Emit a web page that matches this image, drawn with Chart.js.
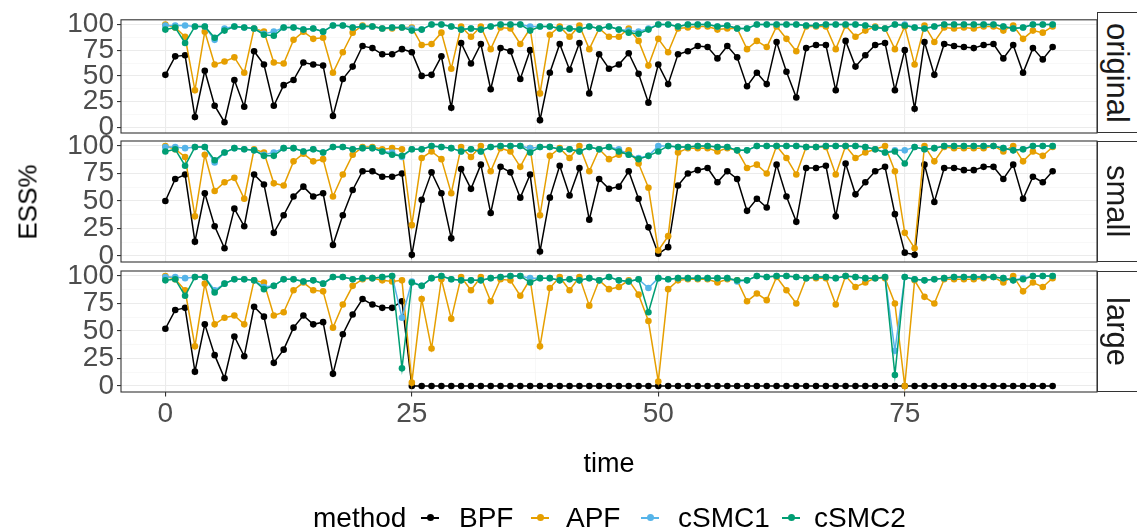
<!DOCTYPE html>
<html>
<head>
<meta charset="utf-8">
<script src="https://cdn.jsdelivr.net/npm/chart.js@4.4.1/dist/chart.umd.min.js"></script>
<style>
body{margin:0;background:#fff;font-family:"Liberation Sans",Arial,sans-serif;}
#wrap{position:relative;width:1137px;height:528px;overflow:hidden;background:#fff;}
#wrap canvas{position:absolute;left:0;top:0;}
.strip{position:absolute;left:1097px;width:46px;border:1.1px solid #333;box-sizing:border-box;background:#fff;display:flex;align-items:center;justify-content:flex-start;}
.strip span{writing-mode:vertical-rl;font-size:31px;line-height:32px;color:#1A1A1A;margin-left:3px;}
#ytitle{position:absolute;left:28px;top:202px;transform:translate(-50%,-50%) rotate(-90deg);font-size:26px;white-space:nowrap;}
.lg{position:absolute;top:502px;font-size:28px;line-height:32px;white-space:nowrap;}
.key{position:absolute;top:517px;width:18px;height:1.5px;}
.key i{position:absolute;left:5.5px;top:-2.8px;width:7px;height:7px;border-radius:50%;}
</style>
</head>
<body>
<div id="wrap">
  <canvas id="c1" width="1137" height="528"></canvas>
  <canvas id="c2" width="1137" height="528"></canvas>
  <canvas id="c3" width="1137" height="528"></canvas>
  <div id="ytitle">ESS%</div>
  <div id="strips"></div>
  <div id="legend"></div>
</div>
<script>
// time steps
var time = [0,1,2,3,4,5,6,7,8,9,10,11,12,13,14,15,16,17,18,19,20,21,22,23,24,25,26,27,28,29,
  30,31,32,33,34,35,36,37,38,39,40,41,42,43,44,45,46,47,48,49,50,51,52,53,54,55,56,57,58,59,
  60,61,62,63,64,65,66,67,68,69,70,71,72,73,74,75,76,77,78,79,80,81,82,83,84,85,86,87,88,89,90]

var methods = ['BPF','APF','cSMC1','cSMC2']
var facets = ['original','small','large']
var yTicks = [0,25,50,75,100]
var xTicks = [0,25,50,75]

// ESS% values, facet "original"
var origBPF = [51,69,70,10,55,21,5,46,20,74,61,21,41,46,63,61,60,11,47,59,79,77,71,71,76,73,50,51,69,19,
  82,62,81,37,77,74,47,75,7,53,81,56,82,33,71,57,61,72,52,24,61,42,71,74,79,78,67,79,68,40,
  53,42,83,54,29,77,80,80,36,84,59,70,80,82,36,75,18,83,51,81,79,78,77,80,81,67,80,53,77,66,78]
var origAPF = [100,97,88,36,93,61,64,68,53,96,93,63,62,85,93,86,87,53,73,92,99,98,96,96,97,97,80,81,92,57,
  98,88,98,76,97,96,81,96,33,90,98,88,99,76,96,88,88,96,84,60,86,73,96,97,98,98,95,96,96,76,
  84,78,98,86,74,98,98,98,76,99,88,94,98,96,76,98,61,99,83,97,96,97,96,98,98,94,99,86,94,92,98]
var origCSMC1 = [99,99,99,98,98,85,96,98,97,96,91,93,97,97,95,96,93,99,99,97,98,98,96,97,97,96,95,100,100,98,
  95,96,95,98,100,100,100,98,98,98,96,96,95,98,96,98,95,94,93,96,100,100,98,100,100,100,98,99,96,96,
  100,100,100,100,100,99,99,100,100,100,100,99,97,96,100,100,97,96,98,100,100,100,100,100,100,98,96,97,100,100,100]
var origCSMC2 = [95,97,82,98,98,87,94,98,97,96,90,89,97,97,95,96,93,99,99,97,98,98,96,97,97,94,95,100,100,98,
  95,96,95,98,100,100,100,94,98,98,96,96,95,98,96,98,95,92,91,95,100,100,98,100,100,100,98,99,96,96,
  100,100,100,100,100,99,99,100,100,100,100,99,97,96,100,99,97,96,98,100,100,100,100,100,100,98,96,97,100,100,100]

// facet "small"
var smallBPF = [50,70,74,13,57,27,7,43,27,74,65,21,37,54,63,54,57,10,37,60,77,77,72,72,75,1,51,76,57,16,
  79,61,83,39,81,76,53,74,4,53,82,55,80,33,70,61,63,77,52,26,2,8,64,75,78,80,67,77,70,41,
  52,44,83,54,31,80,80,82,36,84,56,67,77,81,38,3,1,83,49,80,80,78,78,81,81,70,83,52,72,67,77]
var smallAPF = [100,97,90,36,92,59,67,71,52,97,94,66,64,86,93,86,88,54,74,92,99,99,97,98,97,28,89,95,88,57,
  99,90,100,77,98,95,81,98,37,91,98,89,100,77,97,88,92,96,84,62,5,18,94,98,98,98,95,98,96,80,
  83,75,100,89,74,99,99,99,74,100,89,94,97,100,77,21,7,100,86,99,98,98,98,98,100,95,100,86,95,91,99]
var smallCSMC1 = [99,99,98,99,99,85,94,98,97,96,92,94,98,98,95,97,94,99,99,97,98,98,95,94,90,97,97,100,99,98,
  95,97,95,99,100,100,100,98,99,99,97,97,95,99,97,99,97,92,89,91,100,100,99,99,100,100,99,99,96,96,
  100,100,100,100,100,99,99,100,100,100,100,99,97,94,96,96,99,97,98,100,100,100,100,100,100,98,96,97,100,100,100]
var smallCSMC2 = [95,97,82,99,99,87,94,98,97,96,91,91,98,98,95,97,94,99,99,97,98,98,95,92,91,97,97,100,99,98,
  95,97,95,99,100,100,100,94,99,99,97,97,95,99,97,99,95,92,88,91,95,100,99,99,100,100,99,99,96,96,
  100,100,100,100,100,99,99,100,100,100,100,99,97,94,95,84,99,97,98,100,100,100,100,100,100,98,96,97,100,100,100]

// facet "large"
var largeBPF = [52,69,71,13,56,28,7,45,27,72,63,21,33,53,64,56,58,11,47,65,79,74,71,71,77,0,0,0,0,0,
  0,0,0,0,0,0,0,0,0,0,0,0,0,0,0,0,0,0,0,0,0,0,0,0,0,0,0,0,0,0,
  0,0,0,0,0,0,0,0,0,0,0,0,0,0,0,0,0,0,0,0,0,0,0,0,0,0,0,0,0,0,0]
var largeAPF = [100,97,87,36,93,56,62,64,56,96,94,64,67,87,94,87,86,53,74,91,97,98,96,95,96,3,79,34,97,61,
  99,87,99,77,97,96,82,97,36,89,99,87,99,73,96,88,90,96,83,59,4,88,96,97,97,97,94,97,96,77,
  84,78,99,87,75,98,98,98,74,100,90,94,98,98,75,0,96,81,75,97,97,97,97,98,99,94,100,86,94,90,98]
var largeCSMC1 = [99,99,98,99,99,87,93,97,97,96,90,91,97,97,95,96,93,99,99,97,98,98,99,100,62,95,91,98,100,97,
  96,96,96,98,99,100,100,98,98,98,96,97,96,98,96,99,96,95,97,89,98,97,98,98,98,98,98,98,95,96,
  100,99,100,100,99,98,99,99,98,100,99,98,98,99,32,99,97,96,97,98,99,99,99,99,99,98,96,98,100,100,100]
var largeCSMC2 = [96,97,82,99,99,85,93,97,97,96,88,91,97,97,95,96,93,99,99,97,98,98,99,100,16,94,91,98,100,97,
  96,96,96,98,99,100,100,94,98,98,96,97,96,98,96,99,96,95,97,67,98,97,98,98,98,98,98,98,96,96,
  100,99,100,100,99,98,99,99,98,100,99,98,98,99,10,99,97,96,97,98,99,99,99,99,99,98,96,97,100,100,100]

var seriesByFacet = [
  [origBPF, origAPF, origCSMC1, origCSMC2],
  [smallBPF, smallAPF, smallCSMC1, smallCSMC2],
  [largeBPF, largeAPF, largeCSMC1, largeCSMC2]
]
var colors = ['#000000','#E69F00','#56B4E9','#009E73']

// panel boxes in page pixels
var panelTop = [12, 141, 271]
var panelBottom = [133, 262, 392]
var W = 1137, H = 528
var tickFont = {family:'"Liberation Sans", Arial, sans-serif', size:28}
var titleFont = {family:'"Liberation Sans", Arial, sans-serif', size:27}

var boxPlugin = {
  id:'box',
  afterDraw: function(chart){
    var a = chart.chartArea, c = chart.ctx
    c.save()
    c.strokeStyle = '#333333'
    c.lineWidth = 1.1
    c.strokeRect(a.left, a.top, a.right - a.left, a.bottom - a.top)
    c.restore()
  }
}

function minorTicks(major, step){
  var out = []
  for (var i = 0; i < major.length; i++){
    out.push(major[i])
    out.push(major[i] + step / 2)
  }
  return out
}

function makePanel(k){
  var showX = (k == 2)
  var datasets = methods.map(function(m, j){
    return {
      label: m,
      data: time.map(function(t, i){ return {x: t, y: seriesByFacet[k][j][i]} }),
      borderColor: colors[j],
      backgroundColor: colors[j],
      pointBackgroundColor: colors[j],
      pointBorderWidth: 0,
      pointRadius: 3.3,
      borderWidth: 1.5,
      tension: 0,
      order: 3 - j
    }
  })
  var isMajor = function(v, list){ return list.indexOf(v) >= 0 }
  return new Chart(document.getElementById('c' + (k + 1)), {
    type: 'line',
    plugins: [boxPlugin],
    data: {datasets: datasets},
    options: {
      responsive: false,
      animation: false,
      layout: {padding: {top: panelTop[k], bottom: showX ? 47 : H - panelBottom[k], left: 0, right: W - 1097}},
      plugins: {legend: {display: false}, tooltip: {enabled: false}},
      scales: {
        x: {
          type: 'linear', min: -4.5, max: 94.5,
          afterBuildTicks: function(s){ s.ticks = minorTicks(xTicks, 25).map(function(v){ return {value: v} }) },
          afterFit: function(s){ s.height = showX ? 89 : 0 },
          border: {display: false},
          grid: {
            color: function(c){ return isMajor(c.tick.value, xTicks) ? '#EBEBEB' : '#F3F3F3' },
            lineWidth: function(c){ return isMajor(c.tick.value, xTicks) ? 1.1 : 0.6 },
            drawTicks: showX,
            tickLength: 4.5,
            tickColor: function(c){ return isMajor(c.tick.value, xTicks) ? '#333333' : 'rgba(0,0,0,0)' }
          },
          ticks: {
            display: showX, autoSkip: false, maxRotation: 0, padding: 1,
            color: '#4D4D4D', font: tickFont,
            callback: function(v){ return isMajor(v, xTicks) ? v : '' }
          },
          title: {display: showX, text: 'time', color: '#000000', font: titleFont, padding: {top: 0, bottom: 0}}
        },
        y: {
          min: -5.5, max: 104.5,
          afterBuildTicks: function(s){ s.ticks = minorTicks(yTicks, 25).slice(0, 9).map(function(v){ return {value: v} }) },
          afterFit: function(s){ s.width = 121 },
          border: {display: false},
          grid: {
            color: function(c){ return isMajor(c.tick.value, yTicks) ? '#EBEBEB' : '#F3F3F3' },
            lineWidth: function(c){ return isMajor(c.tick.value, yTicks) ? 1.1 : 0.6 },
            tickLength: 4,
            tickColor: function(c){ return isMajor(c.tick.value, yTicks) ? '#333333' : 'rgba(0,0,0,0)' }
          },
          ticks: {
            autoSkip: false, padding: 3,
            color: '#4D4D4D', font: tickFont,
            callback: function(v){ return isMajor(v, yTicks) ? v : '' }
          }
        }
      }
    }
  })
}

var charts = [makePanel(0), makePanel(1), makePanel(2)]

// facet strips on the right
var strips = document.getElementById('strips')
facets.forEach(function(f, k){
  var d = document.createElement('div')
  d.className = 'strip'
  d.style.top = panelTop[k] + 'px'
  d.style.height = (panelBottom[k] - panelTop[k]) + 'px'
  d.innerHTML = '<span>' + f + '</span>'
  strips.appendChild(d)
})

// legend
var legend = document.getElementById('legend')
var lgTitle = document.createElement('div')
lgTitle.className = 'lg'
lgTitle.style.left = '313px'
lgTitle.textContent = 'method'
legend.appendChild(lgTitle)
var keyX = [421, 531, 641, 782]
var labelX = [459, 566, 678, 814]
methods.forEach(function(m, j){
  var key = document.createElement('div')
  key.className = 'key'
  key.style.left = keyX[j] + 'px'
  key.style.background = colors[j]
  key.innerHTML = '<i style="background:' + colors[j] + '"></i>'
  legend.appendChild(key)
  var lab = document.createElement('div')
  lab.className = 'lg'
  lab.style.left = labelX[j] + 'px'
  lab.textContent = m
  legend.appendChild(lab)
})
</script>
</body>
</html>
